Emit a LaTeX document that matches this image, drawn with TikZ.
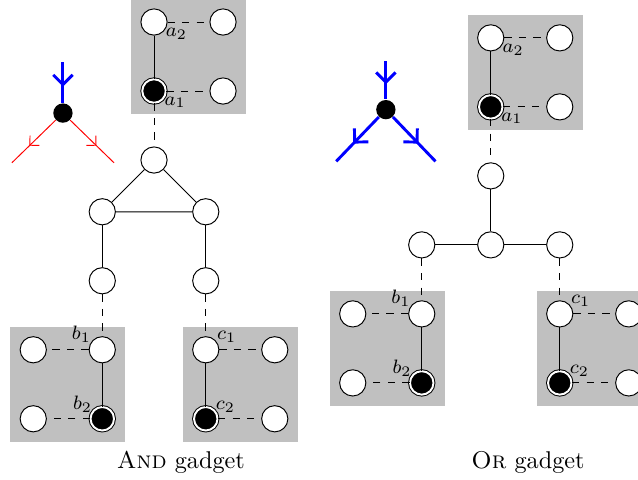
\documentclass[tikz,border=0pt]{standalone}
\usepackage{tikz}
\usetikzlibrary{arrows.meta,calc,decorations.markings}
\newcommand{\pad}{0.33}
\definecolor{grisbox}{RGB}{192,192,192}
\tikzstyle{sommet}=[circle,draw,fill=white,minimum size=0.38cm,inner sep=0]
\tikzstyle{terminal}=[sommet,fill=black,double,double distance=0.8pt,minimum size=0.34cm]
\tikzstyle{boite}=[fill=grisbox]
\tikzstyle{lien}=[dashed]
\tikzstyle{etiq}=[inner sep=0.5pt,label distance=-1pt,font=\footnotesize]
\tikzstyle{point}=[circle,fill,minimum size=0.28cm,inner sep=0]
\tikzstyle{bleu}=[blue,very thick,postaction={decorate},
  decoration={markings,mark=at position 0.6 with {\arrow{Straight Barb[length=4pt,width=8pt]}}}]
\tikzstyle{rouge}=[red,postaction={decorate},
  decoration={markings,mark=at position 0.6 with {\arrow{Straight Barb[length=2.8pt,width=5.6pt]}}}]
% #1 position, #2 nom, #3 cote (1 ou -1), #4 angle, #5 #6 etiquettes
\newcommand{\gadget}[6]{
  \begin{scope}[shift={#1}]
  \fill[boite] ({(#3-1)/2-\pad},\pad) rectangle ({(#3+1)/2+\pad},-1-\pad);
  \node[sommet,label={[etiq]#4:$#5$}] (#2top) at (0,0) {};
  \node[terminal,label={[etiq]#4:$#6$}] (#2bot) at (0,-1) {};
  \node[sommet] (#2topx) at (#3,0) {};
  \node[sommet] (#2botx) at (#3,-1) {};
  \draw (#2top) -- (#2bot);
  \draw[lien] (#2top) -- (#2topx);
  \draw[lien] (#2bot) -- (#2botx);
  \end{scope}
}

\begin{document}
\begin{tikzpicture}
\useasboundingbox (-2.232,2.319) rectangle (7.014,-4.623);

%AND
\gadget{(0,2)}{A}{1}{-25}{a_2}{a_1}
\gadget{(-0.75,-2.75)}{B}{-1}{150}{b_1}{b_2}
\gadget{(0.75,-2.75)}{C}{1}{30}{c_1}{c_2}

\node[sommet] (T) at (0,0) {};
\node[sommet] (L1) at (-0.75,-0.75) {};
\node[sommet] (R1) at (0.75,-0.75) {};
\node[sommet] (L2) at (-0.75,-1.75) {};
\node[sommet] (R2) at (0.75,-1.75) {};

\draw[lien] (Abot) -- (T);
\draw (T) -- (L1) -- (R1) -- (T);
\draw (L1) -- (L2);
\draw (R1) -- (R2);
\draw[lien] (L2) -- (Btop);
\draw[lien] (R2) -- (Ctop);

\node[point] (V) at (-1.32,0.68) {};
\coordinate (Vn) at ($(V)+(0,0.74)$);
\coordinate (Vg) at ($(V)+(-0.74,-0.72)$);
\coordinate (Vd) at ($(V)+(0.74,-0.72)$);
\draw[bleu] (Vn) -- (V);
\draw[rouge] (V) -- (Vg);
\draw[rouge] (V) -- (Vd);

\node (andcap) at (0.39,-4.38) {\textsc{And} gadget};

%OR
\begin{scope}[shift={(4.88,-1.23)}]
\gadget{(0,3)}{D}{1}{-25}{a_2}{a_1}
\gadget{(-1,-1)}{E}{-1}{150}{b_1}{b_2}
\gadget{(1,-1)}{F}{1}{30}{c_1}{c_2}

\node[sommet] (O) at (0,0) {};
\node[sommet] (U) at (0,1) {};
\node[sommet] (OL) at (-1,0) {};
\node[sommet] (OR) at (1,0) {};

\draw[lien] (Dbot) -- (U);
\draw (U) -- (O);
\draw (OL) -- (O) -- (OR);
\draw[lien] (OL) -- (Etop);
\draw[lien] (OR) -- (Ftop);

\node[point] (W) at (-1.52,1.96) {};
\coordinate (Wn) at ($(W)+(0,0.70)$);
\coordinate (Wg) at ($(W)+(-0.72,-0.75)$);
\coordinate (Wd) at ($(W)+(0.72,-0.75)$);
\draw[bleu] (Wn) -- (W);
\draw[bleu] (W) -- (Wg);
\draw[bleu] (W) -- (Wd);

\node (orcap) at (0.54,-3.15) {\textsc{Or} gadget};
\end{scope}
\end{tikzpicture}
\end{document}
